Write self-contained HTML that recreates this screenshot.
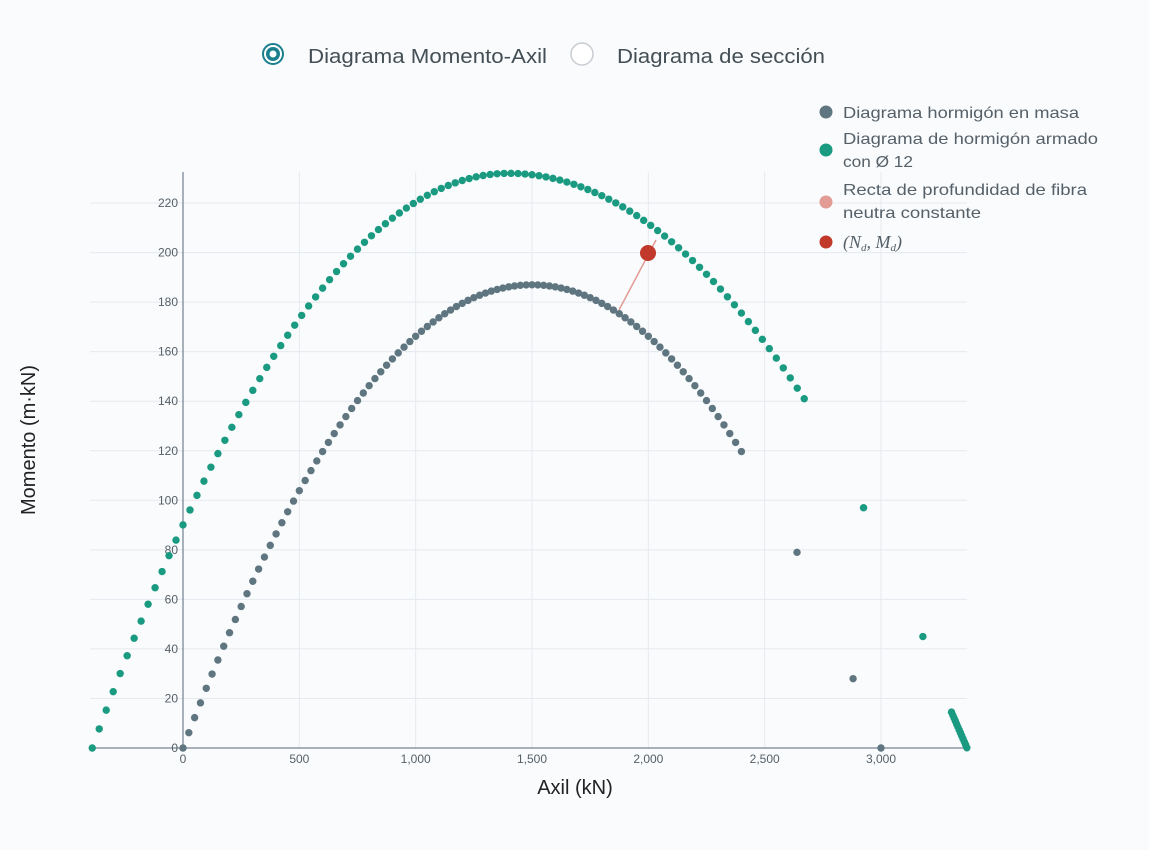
<!DOCTYPE html>
<html><head><meta charset="utf-8"><style>
body{margin:0;background:#f9fbfd;font-family:"Liberation Sans",sans-serif;}
svg{display:block}
</style></head><body>
<svg id="s" width="1149" height="850" xmlns="http://www.w3.org/2000/svg">
<rect width="1149" height="850" fill="#f9fbfd"/>
<circle cx="273" cy="54" r="10" fill="#fff" stroke="#1a7f8e" stroke-width="2"/>
<circle cx="273" cy="54" r="7" fill="#1a7f8e"/>
<circle cx="273" cy="54" r="3.5" fill="#fff"/>
<text x="308" y="63" font-size="20" fill="#444f55" textLength="239" lengthAdjust="spacingAndGlyphs">Diagrama Momento-Axil</text>
<circle cx="582" cy="54" r="11" fill="#fff" stroke="#c8cdd2" stroke-width="1.5"/>
<text x="617" y="63" font-size="20" fill="#444f55" textLength="208" lengthAdjust="spacingAndGlyphs">Diagrama de sección</text>
<g id="grid"></g>
<line x1="183" y1="172" x2="183" y2="748" stroke="#56657a" stroke-width="1"/>
<line x1="90" y1="748" x2="967" y2="748" stroke="#56657a" stroke-width="1"/>
<g id="ticks" font-size="12" fill="#555f66"></g>
<text x="575" y="794" font-size="20" text-anchor="middle" fill="#222">Axil (kN)</text>
<text transform="translate(35,440) rotate(-90)" font-size="20" text-anchor="middle" fill="#222">Momento (m·kN)</text>
<line x1="619" y1="310" x2="656" y2="240" stroke="#e29b95" stroke-width="1.5"/>
<g id="pts"></g>
<circle cx="648" cy="253" r="8" fill="#c0392b"/>
<circle cx="826" cy="112" r="6.5" fill="#5f7680"/>
<text x="843" y="118" font-size="16" fill="#556068" textLength="236" lengthAdjust="spacingAndGlyphs">Diagrama hormigón en masa</text>
<circle cx="826" cy="150" r="6.5" fill="#1a9a80"/>
<text x="843" y="144" font-size="16" fill="#556068" textLength="255" lengthAdjust="spacingAndGlyphs">Diagrama de hormigón armado</text>
<text x="843" y="167" font-size="16" fill="#556068" textLength="70" lengthAdjust="spacingAndGlyphs">con Ø 12</text>
<circle cx="826" cy="202" r="6.5" fill="#e29b95"/>
<text x="843" y="195" font-size="16" fill="#556068" textLength="244" lengthAdjust="spacingAndGlyphs">Recta de profundidad de fibra</text>
<text x="843" y="218" font-size="16" fill="#556068" textLength="138" lengthAdjust="spacingAndGlyphs">neutra constante</text>
<circle cx="826" cy="242" r="6.5" fill="#c0392b"/>
<text x="843" y="248" font-size="18" font-family="Liberation Serif,serif" font-style="italic" fill="#556068">(N<tspan font-size="11" dy="3">d</tspan><tspan dy="-3">, M</tspan><tspan font-size="11" dy="3">d</tspan><tspan dy="-3">)</tspan></text>
</svg>
<script>
var NS="http://www.w3.org/2000/svg";
function X(n){return 183+n*0.23267;}function Y(m){return 748-m*2.477;}
function el(p,t,a,txt){var e=document.createElementNS(NS,t);for(var k in a)e.setAttribute(k,a[k]);if(txt!=null)e.textContent=txt;document.getElementById(p).appendChild(e);}
for(var m=20;m<=220;m+=20)el("grid","line",{x1:90,x2:967,y1:Y(m),y2:Y(m),stroke:"#e6e9ed"});
for(var n=500;n<=3500;n+=500)if(X(n)<967)el("grid","line",{x1:X(n),x2:X(n),y1:172,y2:748,stroke:"#e6e9ed"});
for(var m=0;m<=220;m+=20)el("ticks","text",{x:178,y:Y(m)+4,"text-anchor":"end"},String(m));
for(var n=0;n<=3000;n+=500)el("ticks","text",{x:X(n),y:763,"text-anchor":"middle"},n.toLocaleString("en-US"));
function pt(n,m,c){el("pts","circle",{cx:X(n),cy:Y(m),r:3.7,fill:c});}
var G="#5f7680",E="#1a9a80";
for(var n=0;n<=2400;n+=25){var t=(n-1500)/1500;pt(n,187*(1-t*t),G);}
for(var n=-390;n<=2670;n+=30){var w=n<1400?1790:2028;var t=(n-1400)/w;pt(n,Math.max(0,232*(1-t*t)),E);}
pt(2639,79,G);pt(2880,28,G);pt(3000,0,G);
pt(2925,97,E);pt(3180,45,E);
for(var i=0;i<=12;i++){pt(3303+i*5.5,14.5-i*1.2,E);}
</script>
</body></html>
